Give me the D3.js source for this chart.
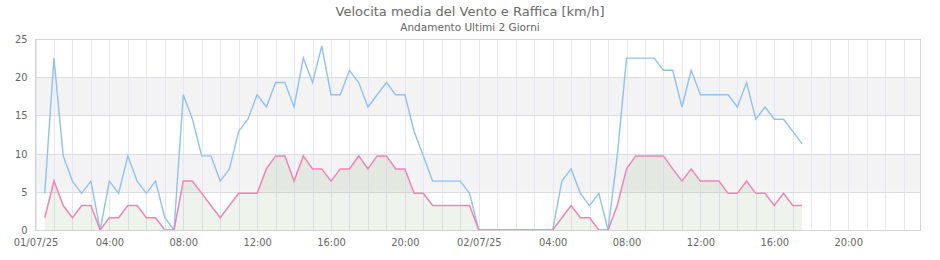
<!DOCTYPE html>
<html>
<head>
<meta charset="utf-8">
<script src="https://cdn.jsdelivr.net/npm/d3@7"></script>
<style>
  html, body { margin: 0; padding: 0; background: #fff; }
  svg { display: block; }
  .tick text { font-family: "DejaVu Sans Condensed", "DejaVu Sans", sans-serif; }
  .ttl { font-family: "DejaVu Sans", sans-serif; }
</style>
</head>
<body>
<svg id="chart" width="940" height="260"></svg>
<script>
// ---------------- DATA ----------------
const titleText = "Velocita media del Vento e Raffica [km/h]";
const subtitleText = "Andamento Ultimi 2 Giorni";

const times = [
  "2025-07-01 00:30","2025-07-01 01:00","2025-07-01 01:30","2025-07-01 02:00","2025-07-01 02:30",
  "2025-07-01 03:00","2025-07-01 03:30","2025-07-01 04:00","2025-07-01 04:30","2025-07-01 05:00",
  "2025-07-01 05:30","2025-07-01 06:00","2025-07-01 06:30","2025-07-01 07:00","2025-07-01 07:30",
  "2025-07-01 08:00","2025-07-01 08:30","2025-07-01 09:00","2025-07-01 09:30","2025-07-01 10:00",
  "2025-07-01 10:30","2025-07-01 11:00","2025-07-01 11:30","2025-07-01 12:00","2025-07-01 12:30",
  "2025-07-01 13:00","2025-07-01 13:30","2025-07-01 14:00","2025-07-01 14:30","2025-07-01 15:00",
  "2025-07-01 15:30","2025-07-01 16:00","2025-07-01 16:30","2025-07-01 17:00","2025-07-01 17:30",
  "2025-07-01 18:00","2025-07-01 18:30","2025-07-01 19:00","2025-07-01 19:30","2025-07-01 20:00",
  "2025-07-01 20:30","2025-07-01 21:00","2025-07-01 21:30","2025-07-01 22:00","2025-07-01 22:30",
  "2025-07-01 23:00","2025-07-01 23:30","2025-07-02 00:00","2025-07-02 00:30","2025-07-02 01:00",
  "2025-07-02 01:30","2025-07-02 02:00","2025-07-02 02:30","2025-07-02 03:00","2025-07-02 03:30",
  "2025-07-02 04:00","2025-07-02 04:30","2025-07-02 05:00","2025-07-02 05:30","2025-07-02 06:00",
  "2025-07-02 06:30","2025-07-02 07:00","2025-07-02 07:30","2025-07-02 08:00","2025-07-02 08:30",
  "2025-07-02 09:00","2025-07-02 09:30","2025-07-02 10:00","2025-07-02 10:30","2025-07-02 11:00",
  "2025-07-02 11:30","2025-07-02 12:00","2025-07-02 12:30","2025-07-02 13:00","2025-07-02 13:30",
  "2025-07-02 14:00","2025-07-02 14:30","2025-07-02 15:00","2025-07-02 15:30","2025-07-02 16:00",
  "2025-07-02 16:30","2025-07-02 17:00","2025-07-02 17:30"
];

// Raffica (gust) km/h - blue
const gust = [
  4.8, 22.5, 9.7, 6.4, 4.8, 6.4, 0, 6.4, 4.8, 9.7,
  6.4, 4.8, 6.4, 1.6, 0, 17.7, 14.5, 9.7, 9.7, 6.4,
  8.0, 12.9, 14.5, 17.7, 16.1, 19.3, 19.3, 16.1, 22.5, 19.3,
  24.1, 17.7, 17.7, 20.9, 19.3, 16.1, 17.7, 19.3, 17.7, 17.7,
  12.9, 9.7, 6.4, 6.4, 6.4, 6.4, 4.8, 0, 0, 0,
  0, 0, 0, 0, 0, 0, 6.4, 8.0, 4.8, 3.2,
  4.8, 0, 9.7, 22.5, 22.5, 22.5, 22.5, 20.9, 20.9, 16.1,
  20.9, 17.7, 17.7, 17.7, 17.7, 16.1, 19.3, 14.5, 16.1, 14.5,
  14.5, 12.9, 11.3
];

// Velocita media (mean speed) km/h - pink
const mean = [
  1.6, 6.4, 3.2, 1.6, 3.2, 3.2, 0, 1.6, 1.6, 3.2,
  3.2, 1.6, 1.6, 0, 0, 6.4, 6.4, 4.8, 3.2, 1.6,
  3.2, 4.8, 4.8, 4.8, 8.0, 9.7, 9.7, 6.4, 9.7, 8.0,
  8.0, 6.4, 8.0, 8.0, 9.7, 8.0, 9.7, 9.7, 8.0, 8.0,
  4.8, 4.8, 3.2, 3.2, 3.2, 3.2, 3.2, 0, 0, 0,
  0, 0, 0, 0, 0, 0, 1.6, 3.2, 1.6, 1.6,
  0, 0, 3.2, 8.0, 9.7, 9.7, 9.7, 9.7, 8.0, 6.4,
  8.0, 6.4, 6.4, 6.4, 4.8, 4.8, 6.4, 4.8, 4.8, 3.2,
  4.8, 3.2, 3.2
];

const yTicks = [0, 5, 10, 15, 20, 25];
const xTickLabels = ["01/07/25","04:00","08:00","12:00","16:00","20:00",
                     "02/07/25","04:00","08:00","12:00","16:00","20:00"];
const axisStart = "2025-07-01 00:00";
const axisEnd = "2025-07-02 23:55";

// ---------------- CHART ----------------
const parse = d3.timeParse("%Y-%m-%d %H:%M");
const pts = times.map((t, i) => ({ t: parse(t), g: gust[i], m: mean[i] }));

const svg = d3.select("#chart");
const L = 35.5, R = 920.5, T = 39, B = 230;

const x = d3.scaleTime().domain([parse(axisStart), parse(axisEnd)]).range([L, R]);
const y = d3.scaleLinear().domain([0, 25]).range([B, T]);

// alternating plot bands
const bands = [[5, 10], [15, 20]];
svg.append("g").selectAll("rect").data(bands).join("rect")
  .attr("x", L).attr("width", R - L)
  .attr("y", d => y(d[1])).attr("height", d => y(d[0]) - y(d[1]))
  .attr("fill", "#f3f3f4");

// vertical hour grid
const hours = d3.timeHour.range(parse(axisStart), parse(axisEnd));
svg.append("g").selectAll("line").data(hours).join("line")
  .attr("x1", d => Math.round(x(d)) + 0.5).attr("x2", d => Math.round(x(d)) + 0.5)
  .attr("y1", T).attr("y2", B)
  .attr("stroke", "#e6e6f8").attr("stroke-width", 1);

// horizontal grid
svg.append("g").selectAll("line").data(yTicks).join("line")
  .attr("x1", L).attr("x2", R)
  .attr("y1", d => Math.round(y(d)) + 0.5).attr("y2", d => Math.round(y(d)) + 0.5)
  .attr("stroke", "#dcdcdc").attr("stroke-width", 1);

// area under mean
const area = d3.area().x(d => x(d.t)).y0(y(0)).y1(d => y(d.m));
svg.append("path").datum(pts).attr("d", area)
  .attr("fill", "rgba(120,160,100,0.13)");

// lines
const lineG = d3.line().x(d => x(d.t)).y(d => y(d.g));
const lineM = d3.line().x(d => x(d.t)).y(d => y(d.m));
svg.append("path").datum(pts).attr("d", lineG)
  .attr("fill", "none").attr("stroke", "#8ec1f4").attr("stroke-width", 1.4);
svg.append("path").datum(pts).attr("d", lineM)
  .attr("fill", "none").attr("stroke", "#ef84b6").attr("stroke-width", 1.5);

// plot border
svg.append("rect").attr("x", L).attr("y", T + 0.5).attr("width", R - L).attr("height", B - T)
  .attr("fill", "none").attr("stroke", "#d4d4d4").attr("stroke-width", 1);

// y axis
const yAxis = d3.axisLeft(y).tickValues(yTicks).tickSize(0).tickPadding(0).tickFormat(d3.format("d"));
const yg = svg.append("g").attr("transform", `translate(${L - 8},0)`).call(yAxis);
yg.select(".domain").remove();
yg.selectAll("text").attr("fill", "#666").attr("font-size", "11px");

// x axis
const xTicks = d3.timeHour.every(4).range(parse(axisStart), parse(axisEnd));
const xAxis = d3.axisBottom(x).tickValues(xTicks).tickSize(0).tickPadding(0)
  .tickFormat((d, i) => xTickLabels[i]);
const xg = svg.append("g").attr("transform", `translate(0,${B + 8})`).call(xAxis);
xg.select(".domain").remove();
xg.selectAll("text").attr("fill", "#666").attr("font-size", "11px");

// titles
svg.append("text").attr("class", "ttl").attr("x", 470).attr("y", 15.5).attr("text-anchor", "middle")
  .attr("font-size", "13px").attr("fill", "#6a6a6a").text(titleText);
svg.append("text").attr("class", "ttl").attr("x", 470).attr("y", 31).attr("text-anchor", "middle")
  .attr("font-size", "10.5px").attr("fill", "#666").text(subtitleText);
</script>
</body>
</html>
